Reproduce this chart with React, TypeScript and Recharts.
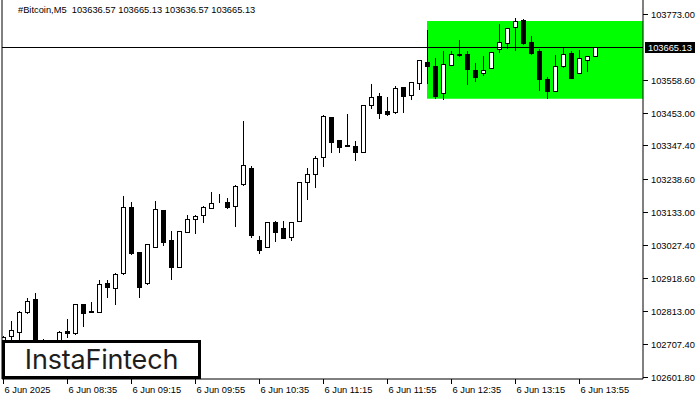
import React from "react";
import { ComposedChart, Bar, XAxis, YAxis, ReferenceArea, ReferenceLine } from "recharts";

// M5 candles, 07:55 .. 14:05
const OPEN = [
  102705.1, 102734.1, 102748.0, 102812.5, 102852.5, 102722.8, 102695.4, 102711.5, 102749.3, 102742.8,
  102836.4, 102812.5, 102810.6, 102904.2, 102887.7, 102936.4, 103149.4, 103004.2, 102904.2, 103022.3,
  103140.7, 103043.9, 102957.7, 103068.7, 103110.6, 103123.6, 103148.1, 103165.5, 103165.5, 103154.5,
  103223.6, 103275.2, 103042.9, 103020.3, 103101.0, 103081.6, 103054.5, 103104.2, 103230.0, 103255.8,
  103310.7, 103439.7, 103366.5, 103349.4, 103346.2, 103326.8, 103478.5, 103508.5, 103460.1, 103455.9,
  103536.5, 103510.7, 103551.4, 103618.2, 103605.3, 103517.2, 103607.5, 103642.0, 103643.0, 103591.4,
  103581.7, 103597.8, 103659.1, 103678.5, 103730.1, 103753.7, 103682.7, 103653.7, 103562.4, 103525.6,
  103604.3, 103647.2, 103581.7, 103625.6, 103636.57,
];
const HIGH = [
  102734.1, 102782.5, 102814.8, 102856.7, 102871.9, 102723.5, 102718.0, 102749.3, 102789.0, 102837.4,
  102837.4, 102842.9, 102913.8, 102914.8, 102936.4, 103185.8, 103166.5, 103005.2, 103031.0, 103169.7,
  103141.6, 103072.9, 103073.5, 103124.5, 103124.5, 103152.6, 103198.7, 103192.3, 103179.4, 103221.3,
  103427.8, 103282.6, 103056.8, 103101.9, 103105.2, 103105.2, 103101.9, 103231.0, 103276.2, 103314.9,
  103447.2, 103440.7, 103366.5, 103449.4, 103362.3, 103479.4, 103547.2, 103519.1, 103505.2, 103540.7,
  103537.5, 103553.6, 103624.6, 103721.4, 103630.1, 103653.7, 103653.7, 103689.1, 103653.7, 103614.0,
  103637.5, 103652.0, 103739.8, 103727.9, 103760.1, 103756.9, 103702.1, 103660.1, 103570.7, 103640.8,
  103664.3, 103653.7, 103656.9, 103637.5, 103665.13,
];
const LOW = [
  102672.8, 102714.8, 102721.2, 102808.3, 102718.0, 102695.4, 102669.6, 102689.0, 102731.9, 102741.6,
  102767.4, 102811.9, 102810.0, 102860.9, 102836.4, 102933.2, 102998.7, 102860.9, 102902.9, 103021.3,
  103027.7, 102917.1, 102957.1, 103068.1, 103067.4, 103102.9, 103147.4, 103164.9, 103148.1, 103090.0,
  103222.3, 103054.5, 103000.9, 103019.7, 103041.6, 103050.6, 103044.8, 103103.6, 103177.1, 103215.8,
  103283.6, 103328.8, 103328.8, 103346.5, 103302.0, 103326.2, 103468.8, 103438.5, 103447.2, 103455.2,
  103455.9, 103499.8, 103530.1, 103550.4, 103501.1, 103497.8, 103606.9, 103638.5, 103546.2, 103557.8,
  103575.3, 103597.2, 103651.4, 103662.4, 103656.9, 103675.3, 103644.0, 103527.8, 103503.0, 103524.9,
  103603.6, 103566.5, 103581.1, 103589.1, 103636.57,
];
const CLOSE = [
  102730.9, 102751.9, 102812.5, 102846.1, 102724.4, 102714.8, 102711.5, 102748.6, 102744.8, 102836.4,
  102809.3, 102814.8, 102900.9, 102893.2, 102933.2, 103149.4, 103000.9, 102893.2, 103030.0, 103143.0,
  103038.4, 102957.7, 103072.9, 103110.6, 103120.3, 103151.3, 103162.3, 103166.5, 103151.3, 103217.1,
  103284.9, 103061.0, 103010.6, 103101.0, 103070.6, 103051.3, 103101.0, 103230.0, 103255.8, 103307.5,
  103443.0, 103361.0, 103344.9, 103347.5, 103326.8, 103478.5, 103504.3, 103452.7, 103449.4, 103533.3,
  103507.5, 103552.7, 103623.7, 103606.2, 103509.4, 103610.7, 103643.0, 103643.0, 103594.6, 103570.7,
  103593.3, 103651.4, 103681.7, 103726.9, 103750.4, 103680.4, 103648.2, 103564.3, 103525.6, 103604.3,
  103643.0, 103567.5, 103630.1, 103636.6, 103665.13,
];

const X_TICK_INDEX = [0, 8, 16, 24, 32, 40, 48, 56, 64, 72];
const X_LABELS = [
  "6 Jun 2025", "6 Jun 08:35", "6 Jun 09:15", "6 Jun 09:55", "6 Jun 10:35",
  "6 Jun 11:15", "6 Jun 11:55", "6 Jun 12:35", "6 Jun 13:15", "6 Jun 13:55",
];
const Y_TICKS = [
  103773.0, 103665.13, 103558.6, 103453.0, 103347.4, 103238.6,
  103133.0, 103027.4, 102918.6, 102813.0, 102707.4, 102601.8,
];
const LAST_PRICE = 103665.13;
const BOX_TOP = 103750.4;
const BOX_BOTTOM = 103499.7;
const BOX_START = 52.9375;

const FONT = "'Liberation Sans', Arial, sans-serif";

const data = OPEN.map((o, i) => ({
  i,
  o,
  h: HIGH[i],
  l: LOW[i],
  c: CLOSE[i],
  range: [LOW[i], HIGH[i]],
}));

function Candle(props: any) {
  const { x, y, width, height, payload } = props;
  if (x == null || y == null) return null;
  const { o, h, l, c } = payload;
  const top = Math.min(y, y + height);
  const bot = Math.max(y, y + height);
  const pix = (v: number) => (h === l ? top : top + ((h - v) / (h - l)) * (bot - top));
  const cx = Math.floor(x + width / 2) + 0.5;
  const up = c >= o;
  const bTop = Math.round(pix(Math.max(o, c)));
  const bBot = Math.round(pix(Math.min(o, c)));
  const wTop = Math.round(pix(h));
  const wBot = Math.round(pix(l));
  return (
    <g shapeRendering="crispEdges">
      <line x1={cx} x2={cx} y1={wTop} y2={wBot + 1} stroke="#000" strokeWidth={1} />
      <rect
        x={cx - 2}
        y={bTop + 0.5}
        width={4}
        height={Math.max(0, bBot - bTop)}
        fill={up ? "#fff" : "#000"}
        stroke="#000"
        strokeWidth={1}
      />
    </g>
  );
}

function XTick(props: any) {
  const { x, payload } = props;
  const k = X_TICK_INDEX.indexOf(payload.value);
  const px = Math.floor(x) + 0.5;
  return (
    <g>
      <line x1={px} x2={px} y1={379} y2={384} stroke="#000" shapeRendering="crispEdges" />
      <text x={px + 1} y={393} fontSize={9.3} fontFamily={FONT} fill="#000">
        {X_LABELS[k]}
      </text>
    </g>
  );
}

function YTick(props: any) {
  const { y, payload } = props;
  const v = payload.value;
  const py = Math.floor(y) + 0.5;
  if (v === LAST_PRICE) {
    return (
      <g>
        <rect x={645} y={py - 5.5} width={50} height={11} fill="#000" />
        <text x={648} y={py + 3.5} fontSize={9.3} fontFamily={FONT} fill="#fff">
          {v.toFixed(2)}
        </text>
      </g>
    );
  }
  return (
    <g>
      <line x1={643} x2={648} y1={py} y2={py} stroke="#000" shapeRendering="crispEdges" />
      <text x={651} y={py + 3.5} fontSize={9.3} fontFamily={FONT} fill="#000">
        {v.toFixed(2)}
      </text>
    </g>
  );
}

export default function App() {
  return (
    <div style={{ position: "absolute", left: 0, top: 0, width: 700, height: 400, background: "#fff" }}>
      <ComposedChart
        width={700}
        height={400}
        data={data}
        margin={{ top: 0, right: 0, bottom: 0, left: 2 }}
      >
        <XAxis
          dataKey="i"
          type="number"
          domain={[-0.1875, 79.9375]}
          allowDataOverflow
          ticks={X_TICK_INDEX}
          tick={<XTick />}
          tickLine={false}
          height={21}
          axisLine={{ stroke: "#000" }}
          interval={0}
        />
        <YAxis
          orientation="right"
          type="number"
          domain={[102595.4, 103818.2]}
          allowDataOverflow
          ticks={Y_TICKS}
          tick={<YTick />}
          tickLine={false}
          width={57}
          axisLine={{ stroke: "#000" }}
          interval={0}
        />
        <ReferenceArea
          x1={BOX_START}
          x2={79.9375}
          y1={BOX_BOTTOM}
          y2={BOX_TOP}
          fill="#00ff00"
          fillOpacity={1}
          stroke="none"
          ifOverflow="visible"
        />
        <ReferenceLine y={LAST_PRICE} stroke="#000" strokeWidth={1} shapeRendering="crispEdges" />
        <ReferenceLine x={-0.1875} stroke="#000" strokeWidth={1} ifOverflow="visible" />
        <Bar dataKey="range" barSize={5} shape={<Candle />} isAnimationActive={false} />
      </ComposedChart>
      <div
        style={{
          position: "absolute",
          left: 18,
          top: 5,
          fontFamily: FONT,
          fontSize: 9.3,
          color: "#000",
          whiteSpace: "pre",
          lineHeight: "11px",
        }}
      >
        {"#Bitcoin,M5  103636.57 103665.13 103636.57 103665.13"}
      </div>
      <div
        style={{
          position: "absolute",
          left: 2,
          top: 340,
          width: 199,
          height: 39,
          boxSizing: "border-box",
          border: "3px solid #000",
          background: "#fff",
          display: "flex",
          alignItems: "center",
          justifyContent: "center",
          fontFamily: "Inter, 'Noto Sans', sans-serif",
          fontWeight: 400,
          fontSize: 27,
          color: "#1e1e1e",
          letterSpacing: -0.2,
        }}
      >
        InstaFintech
      </div>
    </div>
  );
}
